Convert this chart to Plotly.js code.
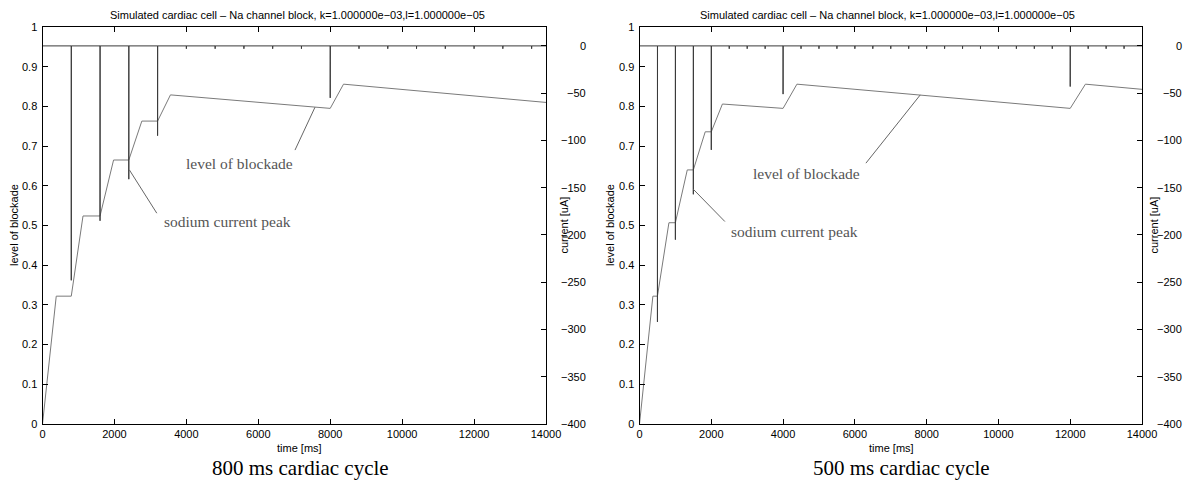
<!DOCTYPE html>
<html><head><meta charset="utf-8">
<script src="https://cdn.plot.ly/plotly-3.0.1.min.js"></script>
<style>html,body{margin:0;padding:0;background:#fff}#chart{width:1190px;height:484px}</style>
</head><body><div id="chart"></div>
<script>
// ---- data ----
const timeTicks = [0, 2000, 4000, 6000, 8000, 10000, 12000, 14000];
const levelTicks = [0, 0.1, 0.2, 0.3, 0.4, 0.5, 0.6, 0.7, 0.8, 0.9, 1];
const currentTicks = [-400, -350, -300, -250, -200, -150, -100, -50, 0];
const currentTickLabels = ["\u2212400", "\u2212350", "\u2212300", "\u2212250", "\u2212200", "\u2212150", "\u2212100", "\u221250", "0"];

// 800 ms cycle
const level800T = [0, 382, 800, 1126, 1600, 1976, 2400, 2762, 3200, 3558, 8000, 8370, 14000];
const level800V = [0, 0.322, 0.322, 0.524, 0.524, 0.665, 0.665, 0.763, 0.763, 0.829, 0.795, 0.856, 0.810];
const spike800T = [800, 1600, 2400, 3200, 8000];
const spike800I = [-248, -185, -141, -95, -55];
const blip800T = [4000, 4800, 5600, 6400, 7200, 8800, 9600, 10400, 11200, 12000, 12800, 13600];
const blip800I = [-3, -3, -3, -3, -3, -3, -3, -3, -3, -3, -3, -3];

// 500 ms cycle
const level500T = [0, 373, 500, 820, 1000, 1331, 1500, 1831, 2000, 2310, 4000, 4386, 12000, 12424, 14000];
const level500V = [0, 0.322, 0.322, 0.507, 0.507, 0.640, 0.640, 0.736, 0.736, 0.806, 0.795, 0.856, 0.795, 0.856, 0.843];
const spike500T = [500, 1000, 1500, 2000, 4000, 12000];
const spike500I = [-292, -205, -157, -110, -51, -43];
const blip500T = [2500, 3000, 3500, 4500, 5000, 5500, 6000, 6500, 7000, 7500, 8000, 8500, 9000, 9500, 10000, 10500, 11000, 11500, 12500, 13000, 13500];
const blip500I = [-3, -3, -3, -3, -3, -3, -3, -3, -3, -3, -3, -3, -3, -3, -3, -3, -3, -3, -3, -3, -3];

const titleText = "Simulated cardiac cell \u2013 Na channel block, k=1.000000e\u221203,l=1.000000e\u221205";
const captions = ["800 ms cardiac cycle", "500 ms cardiac cycle"];

// ---- helpers ----
const W = 1190, H = 484;
const fx = px => px / W;
const fy = py => 1 - py / H;

function currentTrace(spT, spI, blT, blI) {
  const ev = [];
  spT.forEach((t, i) => ev.push([t, spI[i]]));
  blT.forEach((t, i) => ev.push([t, blI[i]]));
  ev.sort((a, b) => a[0] - b[0]);
  const x = [0], y = [0];
  ev.forEach(([t, v]) => { x.push(t, t, t + 2); y.push(0, v, 0); });
  x.push(14000); y.push(0);
  return { x, y };
}

const c800 = currentTrace(spike800T, spike800I, blip800T, blip800I);
const c500 = currentTrace(spike500T, spike500I, blip500T, blip500I);

const LEVEL_COLOR = '#7a7a7a';
const CUR_COLOR = '#3a3a3a';

const data = [
  { x: level800T, y: level800V, xaxis: 'x', yaxis: 'y', mode: 'lines', line: { color: LEVEL_COLOR, width: 1 }, hoverinfo: 'skip' },
  { x: c800.x, y: c800.y, xaxis: 'x', yaxis: 'y2', mode: 'lines', line: { color: CUR_COLOR, width: 1 }, hoverinfo: 'skip' },
  { x: level500T, y: level500V, xaxis: 'x2', yaxis: 'y3', mode: 'lines', line: { color: LEVEL_COLOR, width: 1 }, hoverinfo: 'skip' },
  { x: c500.x, y: c500.y, xaxis: 'x2', yaxis: 'y4', mode: 'lines', line: { color: CUR_COLOR, width: 1 }, hoverinfo: 'skip' }
];

const sans = { family: 'Liberation Sans, Arial, sans-serif', size: 11, color: '#000' };
const serifGray = { family: 'Liberation Serif, Times New Roman, serif', size: 15.5, color: '#555' };
const serifCap = { family: 'Liberation Serif, Times New Roman, serif', size: 21, color: '#000' };

const yDom = [fy(424), fy(27)];
function xAx(dom, anchor) {
  return {
    domain: dom, anchor: anchor, range: [0, 14000], tickvals: timeTicks, ticktext: timeTicks.map(String),
    ticks: 'inside', ticklen: 5, tickcolor: '#000', showline: true, linecolor: '#000', linewidth: 1,
    mirror: 'ticks', showgrid: false, zeroline: false, tickfont: sans, fixedrange: true
  };
}
function yLeft(anchor) {
  return {
    domain: yDom, anchor: anchor, range: [0, 1], tickvals: levelTicks, ticktext: levelTicks.map(String),
    ticks: 'inside', ticklen: 5, tickcolor: '#000', showline: true, linecolor: '#000', linewidth: 1,
    showgrid: false, zeroline: false, tickfont: sans, fixedrange: true, ticklabelstandoff: 2
  };
}
function yRight(over, anchor) {
  return {
    overlaying: over, anchor: anchor, side: 'right', range: [-400, 20], tickvals: currentTicks,
    showticklabels: false, ticks: 'inside', ticklen: 5, tickcolor: '#000', showline: true,
    linecolor: '#000', linewidth: 1, showgrid: false, zeroline: false, fixedrange: true
  };
}

const annotations = [];
function txt(x, y, text, font, extra) {
  annotations.push(Object.assign({ xref: 'paper', yref: 'paper', x: x, y: y, text: text, font: font,
    showarrow: false, xanchor: 'center', yanchor: 'middle' }, extra || {}));
}
// titles
txt(fx(297), fy(15), titleText, sans);
txt(fx(887), fy(15), titleText, sans);
// x titles
txt(fx(299), fy(448), 'time [ms]', sans);
txt(fx(891), fy(448), 'time [ms]', sans);
// y titles
txt(fx(14), fy(225), 'level of blockade', sans, { textangle: -90 });
txt(fx(610), fy(225), 'level of blockade', sans, { textangle: -90 });
txt(fx(563.5), fy(225), 'current [uA]', sans, { textangle: -90 });
txt(fx(1153.5), fy(225), 'current [uA]', sans, { textangle: -90 });
// captions
txt(fx(300.8), fy(468), captions[0], serifCap);
txt(fx(901), fy(468), captions[1], serifCap);
// right-axis tick labels (right aligned like the reference)
currentTicks.forEach((v, i) => {
  annotations.push({ xref: 'paper', yref: 'y2', x: fx(588), y: v, text: currentTickLabels[i], font: sans,
    showarrow: false, xanchor: 'right', yanchor: 'middle' });
  annotations.push({ xref: 'paper', yref: 'y4', x: fx(1184), y: v, text: currentTickLabels[i], font: sans,
    showarrow: false, xanchor: 'right', yanchor: 'middle' });
});
// in-plot labels (data coordinates)
annotations.push({ xref: 'x', yref: 'y', x: 5478, y: 0.657, text: 'level of blockade', font: serifGray, showarrow: false });
annotations.push({ xref: 'x', yref: 'y', x: 5130, y: 0.511, text: 'sodium current peak', font: serifGray, showarrow: false });
annotations.push({ xref: 'x2', yref: 'y3', x: 4653, y: 0.630, text: 'level of blockade', font: serifGray, showarrow: false });
annotations.push({ xref: 'x2', yref: 'y3', x: 4305, y: 0.484, text: 'sodium current peak', font: serifGray, showarrow: false });

const ptr = { color: '#666', width: 1 };
const shapes = [
  { type: 'line', xref: 'x', yref: 'y', x0: 7021, y0: 0.690, x1: 7577, y1: 0.798, line: ptr },
  { type: 'line', xref: 'x', yref: 'y', x0: 2416, y0: 0.640, x1: 3178, y1: 0.531, line: ptr },
  { type: 'line', xref: 'x2', yref: 'y3', x0: 6308, y0: 0.657, x1: 7823, y1: 0.829, line: ptr },
  { type: 'line', xref: 'x2', yref: 'y3', x0: 1502, y0: 0.591, x1: 2379, y1: 0.510, line: ptr }
];

const layout = {
  width: W, height: H, margin: { l: 0, r: 0, t: 0, b: 0 }, showlegend: false,
  paper_bgcolor: '#fff', plot_bgcolor: '#fff',
  xaxis: xAx([fx(42.5), fx(546)], 'y'),
  yaxis: yLeft('x'),
  yaxis2: yRight('y', 'x'),
  xaxis2: xAx([fx(639.5), fx(1142)], 'y3'),
  yaxis3: yLeft('x2'),
  yaxis4: yRight('y3', 'x2'),
  annotations: annotations, shapes: shapes
};

Plotly.newPlot('chart', data, layout, { displayModeBar: false, staticPlot: true });
</script>
</body></html>
